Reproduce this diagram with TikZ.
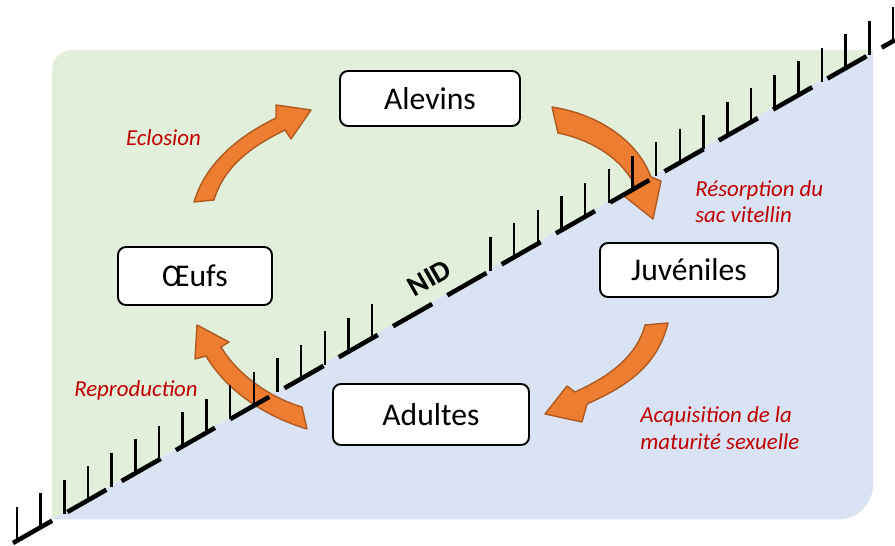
\documentclass[tikz,border=0pt]{standalone}
\usepackage{fontspec}
\setmainfont{Carlito}
\usetikzlibrary{calc}

\definecolor{nidgreen}{HTML}{E2EFDA}
\definecolor{nidblue}{HTML}{DAE3F3}
\definecolor{arrowfill}{HTML}{ED7D31}
\definecolor{arrowline}{HTML}{AE5A21}
\definecolor{labelred}{HTML}{C00000}

\begin{document}
\begin{tikzpicture}
\tikzset{ stage/.style={draw=black, line width=1.1pt, fill=white, rounded corners=0.16cm,
                        font=\fontsize{18}{21}\selectfont, inner sep=0pt},
          steplabel/.style={text=labelred, font=\fontsize{13}{15}\selectfont\itshape, inner sep=0pt},
          cyclearrow/.style={fill=arrowfill, draw=arrowline, line width=0.8pt, line join=round},
          nidline/.style={line width=2.6pt, dash pattern=on 0.9cm off 0.35cm},
          nidtick/.style={line width=1.4pt} }

\useasboundingbox (0,0) rectangle (17.9,10.92);

%\draw [lightgray, dashed](0,0) grid (18,11);

\fill [nidgreen] (1.04,0.53) -- (1.04,9.52) arc[start angle=180, end angle=90, radius=0.4] -- (17.46,9.92) -- cycle;
\fill [nidblue]  (1.04,0.53) -- (16.76,0.53) arc[start angle=270, end angle=360, radius=0.7] -- (17.46,9.92) -- cycle;

\filldraw [cyclearrow] (3.88,6.88) .. controls (4.12,7.68) and (4.80,8.21) .. (5.52,8.56) -- (5.52,8.82) -- (6.22,8.72)
  -- (5.82,8.14) -- (5.70,8.32) .. controls (5.07,8.01) and (4.49,7.62) .. (4.28,6.92) -- cycle;
\filldraw [cyclearrow] (11.04,8.78) .. controls (11.94,8.64) and (12.74,8.13) .. (13.02,7.38) -- (13.22,7.30) -- (13.06,6.54)
  -- (12.48,7.00) -- (12.72,7.14) .. controls (12.51,7.70) and (11.86,8.12) .. (11.16,8.26) -- cycle;
\filldraw [cyclearrow] (13.36,4.46) .. controls (13.14,3.56) and (12.47,3.17) .. (11.74,2.84) -- (11.64,2.48) -- (10.90,2.64)
  -- (11.34,3.20) -- (11.50,3.08) .. controls (12.05,3.33) and (12.72,3.72) .. (12.90,4.42) -- cycle;
\filldraw [cyclearrow] (6.14,2.34) .. controls (5.28,2.60) and (4.53,3.11) .. (4.12,3.80) -- (3.90,3.74) -- (3.94,4.42)
  -- (4.58,4.08) -- (4.42,3.98) .. controls (4.73,3.46) and (5.36,2.98) .. (6.04,2.78) -- cycle;

\coordinate (nidA) at (0.26,0.06);
\coordinate (nidB) at (17.9,10.12);
\coordinate (tickA) at (0.34,0.106);
\coordinate (tickB) at (17.86,10.098);

\draw [nidline] (nidA) -- (nidB);
\foreach \k in {0,...,15,20,21,...,37}
  \draw [nidtick] ($(tickA)!\k/37!(tickB)$) -- ++(0,0.68);

\node [rotate=29.7, inner sep=0pt, font=\fontsize{16.5}{19}\selectfont\bfseries] (nid) at (8.59,5.36) {NID};

\node [stage, minimum width=3.6cm,  minimum height=1.1cm]  (alevins)   at ( 8.60,8.95) {Alevins};
\node [stage, minimum width=3.08cm, minimum height=1.16cm] (oeufs)     at ( 3.90,5.40) {Œufs};
\node [stage, minimum width=3.56cm, minimum height=1.08cm] (juveniles) at (13.78,5.52) {Juvéniles};
\node [stage, minimum width=3.92cm, minimum height=1.22cm] (adultes)   at ( 8.62,2.63) {Adultes};

\node [steplabel, anchor=base] (eclosion)     at (3.27,8.00) {Eclosion};
\node [steplabel, anchor=base] (reproduction) at (2.72,2.98) {Reproduction};
\node [steplabel, anchor=west, align=left] (resorption) at (13.90,6.89) {Résorption du\\sac vitellin};
\node [steplabel, anchor=west, align=left] (maturite)   at (12.80,2.36) {Acquisition de la\\maturité sexuelle};

\end{tikzpicture}
\end{document}
